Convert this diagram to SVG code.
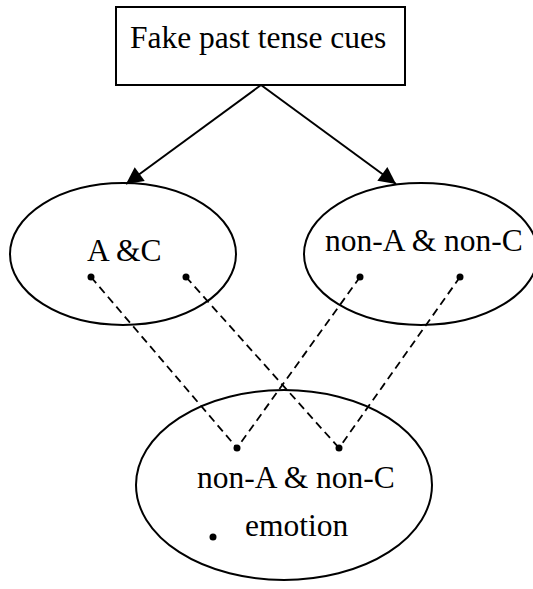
<svg xmlns="http://www.w3.org/2000/svg" width="533" height="589" viewBox="0 0 533 589">
<style>
.shape{fill:#fff;stroke:#000;stroke-width:2}
.t{font-family:"Liberation Serif","Times New Roman",serif;font-size:31.5px;fill:#000}
.dash{stroke:#000;stroke-width:1.8;stroke-dasharray:8,5;fill:none}
.arrow{stroke:#000;stroke-width:2;fill:none;marker-end:url(#ah)}
.dot{fill:#000}
</style>
<defs>
<marker id="ah" viewBox="0 0 10 10" refX="10" refY="5" markerWidth="10" markerHeight="10" markerUnits="userSpaceOnUse" orient="auto" overflow="visible">
<path d="M0,0 L10,5 L0,10 z" fill="#000" transform="scale(1.7) translate(-4.1,-2.1)"/>
</marker>
</defs>
<g id="cues">
<rect class="shape" x="116" y="7" width="289" height="78"/>
<text class="t" x="130" y="48">Fake past tense cues</text>
</g>
<g id="ac">
<ellipse class="shape" cx="123" cy="254" rx="113" ry="71"/>
<text class="t" x="87" y="261">A &amp;C</text>
<circle class="dot" cx="91" cy="277" r="3.5"/>
<circle class="dot" cx="186" cy="277" r="3.5"/>
</g>
<g id="nonac">
<ellipse class="shape" cx="421" cy="254" rx="117" ry="71"/>
<text class="t" x="325" y="251">non-A &amp; non-C</text>
<circle class="dot" cx="360" cy="277" r="3.5"/>
<circle class="dot" cx="460" cy="277" r="3.5"/>
</g>
<g id="emotion">
<ellipse class="shape" cx="284" cy="485" rx="148" ry="95"/>
<text class="t" x="197" y="488">non-A &amp; non-C</text>
<text class="t" x="245" y="536">emotion</text>
<circle class="dot" cx="237" cy="448" r="3.5"/>
<circle class="dot" cx="339" cy="448" r="3.5"/>
<circle class="dot" cx="213" cy="537" r="3.5"/>
</g>
<g id="connectors">
<line class="arrow" x1="261" y1="85" x2="126" y2="184"/>
<line class="arrow" x1="261" y1="85" x2="396" y2="184"/>
<line class="dash" x1="91" y1="277" x2="237" y2="448"/>
<line class="dash" x1="186" y1="277" x2="339" y2="448"/>
<line class="dash" x1="360" y1="277" x2="237" y2="448"/>
<line class="dash" x1="460" y1="277" x2="339" y2="448"/>
</g>
</svg>
